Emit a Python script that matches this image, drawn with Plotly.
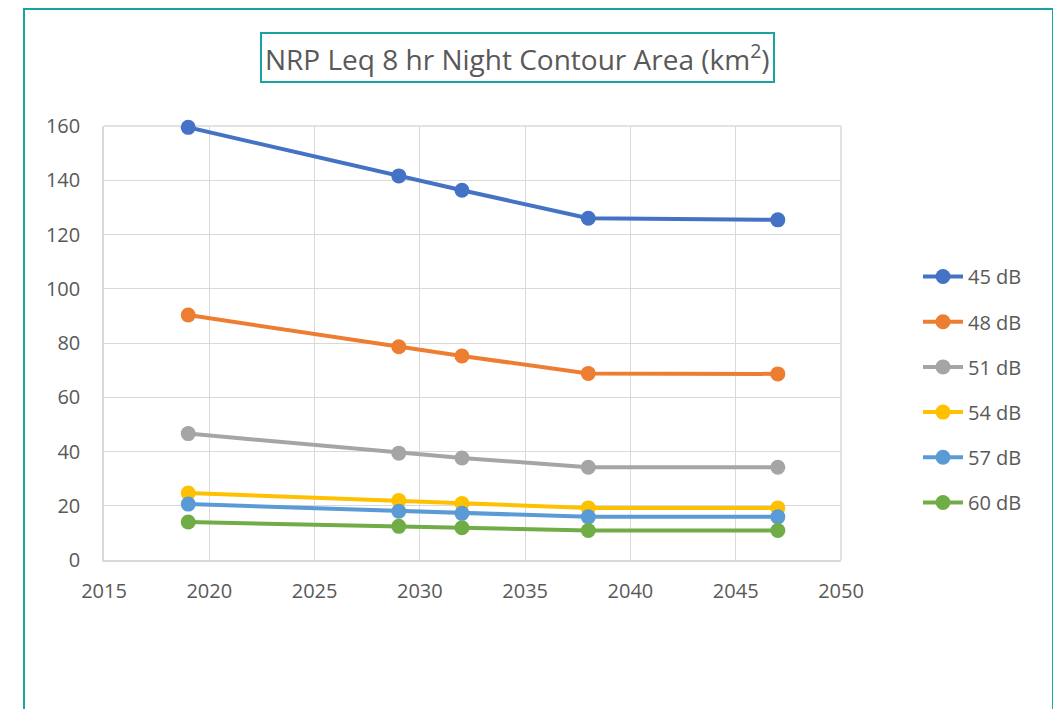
import plotly.graph_objects as go

years = [2019, 2029, 2032, 2038, 2047]
series_names = ["45 dB", "48 dB", "51 dB", "54 dB", "57 dB", "60 dB"]
db45 = [159.5, 141.6, 136.3, 126.0, 125.4]
db48 = [90.3, 78.6, 75.2, 68.8, 68.6]
db51 = [46.6, 39.4, 37.6, 34.2, 34.2]
db54 = [24.7, 21.9, 20.8, 19.2, 19.2]
db57 = [20.6, 18.0, 17.2, 15.9, 15.9]
db60 = [14.0, 12.4, 11.9, 10.9, 10.9]
colors = ["#4472C4", "#ED7D31", "#A5A5A5", "#FFC000", "#5B9BD5", "#70AD47"]
title_text = "NRP Leq 8 hr Night Contour Area (km<sup>2</sup>)"

all_series = [db45, db48, db51, db54, db57, db60]
TEAL = "#1AA3A3"
FONT = "Open Sans"
TXT = "#595959"

fig = go.Figure()
for name, vals, c in zip(series_names, all_series, colors):
    fig.add_trace(go.Scatter(
        x=years, y=vals, name=name, mode="lines+markers",
        line=dict(color=c, width=4),
        marker=dict(color=c, size=15),
        legendgroup=name, cliponaxis=False,
    ))

# page has an 8px body margin; figure sized/positioned to compensate
OFF = 8
W, H = 1061 - OFF, 709 - OFF
PL, PR, PT, PB = 104, 841, 126, 560  # plot area in page pixels
L, T = PL - OFF, PT - OFF
R = W - (PR - OFF)
B = H - (PB - OFF)
pw, ph = PR - PL, PB - PT

def px2paper_x(px):
    return (px - PL) / pw

def px2paper_y(py):
    return (PB - py) / ph

fig.update_layout(
    width=W, height=H,
    margin=dict(l=L, r=R, t=T, b=B),
    paper_bgcolor="white", plot_bgcolor="white",
    font=dict(family=FONT, size=20, color=TXT),
    showlegend=True,
    legend=dict(
        x=px2paper_x(918), y=px2paper_y(257), xanchor="left", yanchor="top",
        font=dict(size=20, color=TXT), tracegroupgap=16.2,
        itemwidth=40, bgcolor="rgba(0,0,0,0)",
    ),
    xaxis=dict(
        range=[2015, 2050], dtick=5, tick0=2015,
        showgrid=True, gridcolor="#D9D9D9", gridwidth=1,
        showline=True, linecolor="#D9D9D9", linewidth=1.5, mirror=False,
        zeroline=False, ticks="", ticklabelstandoff=12,
        tickfont=dict(size=20, color=TXT),
    ),
    yaxis=dict(
        range=[0, 160], dtick=20,
        showgrid=True, gridcolor="#D9D9D9", gridwidth=1,
        showline=True, linecolor="#D9D9D9", linewidth=1.5,
        zeroline=False, ticks="", ticklabelstandoff=18,
        tickfont=dict(size=20, color=TXT),
    ),
    annotations=[dict(
        text=title_text, xref="paper", yref="paper",
        x=px2paper_x(517.5), y=px2paper_y(57.5), xanchor="center", yanchor="middle",
        showarrow=False, font=dict(size=28, color=TXT, family=FONT),
        bordercolor=TEAL, borderwidth=2, borderpad=3, bgcolor="white",
    )],
    shapes=[
        dict(type="rect", xref="paper", yref="paper",
             x0=px2paper_x(24), x1=px2paper_x(1053),
             y0=px2paper_y(740), y1=px2paper_y(OFF + 1),
             line=dict(color=TEAL, width=2), fillcolor="rgba(0,0,0,0)", layer="below"),
        dict(type="line", xref="paper", yref="paper", x0=1, x1=1, y0=0, y1=1,
             line=dict(color="#D9D9D9", width=1.5), layer="below"),
        dict(type="line", xref="paper", yref="paper", x0=0, x1=1, y0=1, y1=1,
             line=dict(color="#D9D9D9", width=1.5), layer="below"),
    ],
)

fig.write_html("out.html")
